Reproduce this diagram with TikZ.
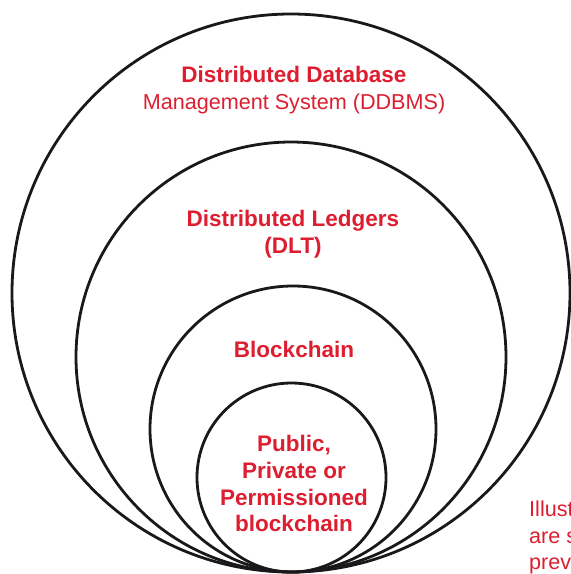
\documentclass[tikz,border=0pt]{standalone}
\usepackage{fontspec}
\setmainfont{Liberation Sans}
\definecolor{brandred}{RGB}{221,30,48}
\definecolor{inkline}{RGB}{26,24,26}
\begin{document}
\begin{tikzpicture}[x=1pt,y=-1pt,
  ring/.style={circle, draw=inkline, line width=2.8pt, inner sep=0pt},
  headbold/.style={anchor=base, inner sep=0pt, text=brandred,
    font=\fontsize{22.5}{27}\selectfont\bfseries},
  headplain/.style={anchor=base, inner sep=0pt, text=brandred,
    font=\fontsize{21.6}{27}\selectfont},
  sidenote/.style={anchor=base west, inner sep=0pt, text=brandred,
    font=\fontsize{21.6}{27}\selectfont}]
\useasboundingbox (0,0) rectangle (571,574);
\clip (0,0) rectangle (571,574);

% nested rings, all touching at the bottom
\node[ring, minimum size=558pt] (ddbms) at (291,293) {};
\node[ring, minimum size=430pt] (dlt)   at (291,357) {};
\node[ring, minimum size=286pt] (chain) at (293,429) {};
\node[ring, minimum size=189pt] (perm)  at (291.5,477.5) {};

% ring labels
\node[headbold]  (ddbmsA) at (294,82)  {Distributed Database};
\node[headplain] (ddbmsB) at (294,109) {Management System (DDBMS)};
\node[headbold]  (dltA)   at (293,226) {Distributed Ledgers};
\node[headbold]  (dltB)   at (293,253) {(DLT)};
\node[headbold]  (chainA) at (294,357) {Blockchain};
\node[headbold]  (permA)  at (294,451) {Public,};
\node[headbold]  (permB)  at (294,478) {Private or};
\node[headbold]  (permC)  at (294,505) {Permissioned};
\node[headbold]  (permD)  at (294,531) {blockchain};

% caption running off the right edge
\node[sidenote] (capA) at (529,516) {Illustr};
\node[sidenote] (capB) at (529,543) {are s};
\node[sidenote] (capC) at (529,569) {previ};
\end{tikzpicture}
\end{document}
